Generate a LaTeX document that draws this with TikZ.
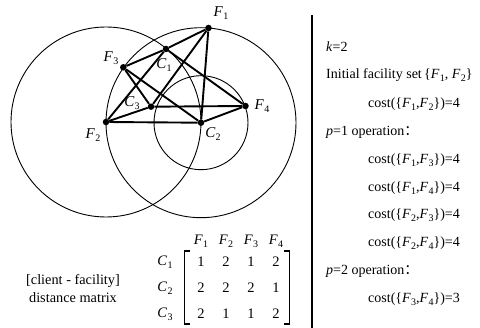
\documentclass[tikz,border=0pt]{standalone}
\usepackage{fontspec}
\setmainfont{Liberation Serif}
\newfontfamily\cjk{Noto Sans CJK SC}
\newcommand\sbs[1]{\raisebox{-0.45ex}{\fontsize{10}{11}\selectfont #1}}
\newcommand\FF[1]{\textit{F}\kern0.3pt\sbs{#1}}
\newcommand\CC[1]{\textit{C}\kern0.3pt\sbs{#1}}
\begin{document}
\begin{tikzpicture}[x=1pt,y=-1pt,
  pt/.style={circle,fill=black,inner sep=0pt,minimum size=6.5pt},
  edge/.style={line width=1.9pt},
  ring/.style={line width=0.9pt},
  lbl/.style={inner sep=0pt,font=\fontsize{15}{17}\selectfont},
  mtx/.style={inner sep=0pt,font=\fontsize{14.5}{17}\selectfont},
  txt/.style={inner sep=0pt,anchor=west,font=\fontsize{14}{16}\selectfont}]
\useasboundingbox (0,0) rectangle (480,328);
% points
\node[pt] (F1) at (208.5,28) {};
\node[pt] (C1) at (166,49) {};
\node[pt] (F3) at (123.3,67.3) {};
\node[pt] (C3) at (151,106.7) {};
\node[pt] (F4) at (245.5,106) {};
\node[pt] (F2) at (106,122) {};
\node[pt] (C2) at (201,122.7) {};
% circles
\draw[ring] (F2) circle[radius=95];
\draw[ring] (C2) circle[radius=95];
\draw[ring] (C2) circle[radius=47];
% edges (complete bipartite)
\foreach \c in {C1,C2,C3}{
  \foreach \f in {F1,F2,F3,F4}{
    \draw[edge] (\c) -- (\f);
  }
}
% labels
\node[lbl] (lF1) at (221,13) {\FF{1}};
\node[lbl] (lF3) at (111,58) {\FF{3}};
\node[lbl] (lC1) at (164,65) {\CC{1}};
\node[lbl] (lC3) at (132,103) {\CC{3}};
\node[lbl] (lF4) at (262,106) {\FF{4}};
\node[lbl] (lF2) at (93,135) {\FF{2}};
\node[lbl] (lC2) at (213,134) {\CC{2}};
% matrix
\node[mtx] (h1) at (201,241) {\FF{1}};
\node[mtx] (h2) at (226,241) {\FF{2}};
\node[mtx] (h3) at (251,241) {\FF{3}};
\node[mtx] (h4) at (276,241) {\FF{4}};
\node[mtx] (r1) at (165,262) {\CC{1}};
\node[mtx] (r2) at (165,288) {\CC{2}};
\node[mtx] (r3) at (165,314) {\CC{3}};
\foreach \y/\a/\b/\c/\d in {262/1/2/1/2, 288/2/2/2/1, 314/2/1/1/2}{
  \node[mtx] at (201,\y) {\a};
  \node[mtx] at (226,\y) {\b};
  \node[mtx] at (251,\y) {\c};
  \node[mtx] at (276,\y) {\d};
}
\draw[line width=1.3pt] (190,251) -- (184.5,251) -- (184.5,324) -- (190,324);
\draw[line width=1.3pt] (284,251) -- (289.5,251) -- (289.5,324) -- (284,324);
\node[inner sep=0pt,align=center,font=\fontsize{14.3}{18}\selectfont] (dm) at (73,289)
  {[client - facility]\\distance matrix};
% right panel
\draw[line width=2.5pt] (312,15) -- (312,328);
\node[txt] (t1) at (326,47) {\textit{k}=2};
\node[txt] (t2) at (326,75) {Initial facility set\,\{\FF{1}, \FF{2}\}};
\node[txt] (t3) at (368,104) {cost(\{\FF{1},\FF{2}\})=4};
\node[txt] (t4) at (326,132) {\textit{p}=1 operation{\cjk ：}};
\node[txt] (t5) at (368,160) {cost(\{\FF{1},\FF{3}\})=4};
\node[txt] (t6) at (368,188) {cost(\{\FF{1},\FF{4}\})=4};
\node[txt] (t7) at (368,215) {cost(\{\FF{2},\FF{3}\})=4};
\node[txt] (t8) at (368,243) {cost(\{\FF{2},\FF{4}\})=4};
\node[txt] (t9) at (326,271) {\textit{p}=2 operation{\cjk ：}};
\node[txt] (t10) at (368,299) {cost(\{\FF{3},\FF{4}\})=3};
\end{tikzpicture}
\end{document}
